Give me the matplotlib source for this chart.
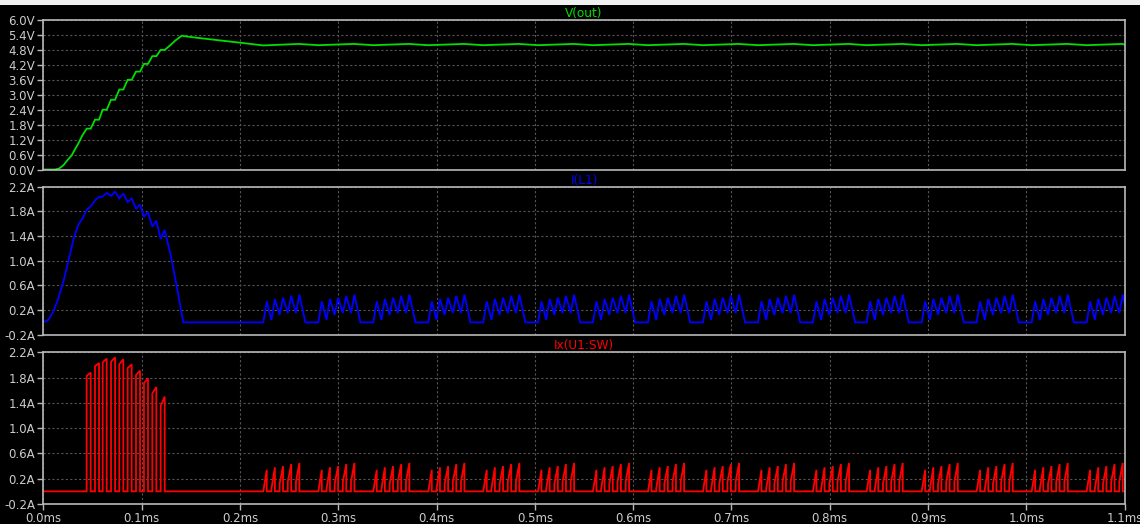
import numpy as np
import matplotlib.pyplot as plt
from matplotlib.patches import Rectangle

# COLOURS
bg = 'black'
frame_col = '#b8b8b8'
grid_col = '#555555'
text_col = '#cccccc'
green = '#00e000'
blue = '#0000ff'
red = '#ff0000'

# V(OUT) STARTUP ( ms , V )
vout_t = [0.0, 0.0118, 0.016, 0.0203, 0.025, 0.0288, 0.0320, 0.0355, 0.0395, 0.0440,
          0.0481, 0.0525, 0.0566, 0.0603, 0.0644, 0.0688, 0.0729, 0.0772, 0.0813,
          0.0857, 0.0898, 0.0942, 0.0983, 0.1023, 0.1064, 0.1108, 0.1149, 0.1193,
          0.1234, 0.1270, 0.1305, 0.1340, 0.1373, 0.1407, 0.1474, 0.1600, 0.1800,
          0.2000, 0.2150, 0.2237]
vout_v = [0.0, 0.0, 0.04, 0.17, 0.40, 0.57, 0.80, 1.04, 1.36, 1.64,
          1.64, 2.00, 2.00, 2.40, 2.40, 2.80, 2.80, 3.21, 3.21,
          3.60, 3.60, 3.93, 3.93, 4.24, 4.24, 4.55, 4.55, 4.80,
          4.80, 4.92, 5.04, 5.17, 5.27, 5.37, 5.33, 5.27, 5.18,
          5.09, 5.02, 4.98]
vout_lo = 4.99
vout_hi = 5.04

# I(L1) BEFORE FIRST SWITCH PULSE
il_pre_t = [0.0, 0.0050, 0.0100, 0.0152, 0.0203, 0.0253, 0.0304, 0.0355, 0.0406, 0.0440]
il_pre_i = [0.0, 0.04, 0.17, 0.39, 0.66, 0.98, 1.34, 1.58, 1.71, 1.825]

# STARTUP SWITCH PULSES
start_on = [0.0440, 0.0525, 0.0603, 0.0688, 0.0772, 0.0857, 0.0942, 0.1023, 0.1108, 0.1193]
start_lo = [1.825, 1.98, 2.04, 2.05, 2.01, 1.95, 1.84, 1.71, 1.55, 1.35]
start_hi = [1.88, 2.03, 2.10, 2.12, 2.09, 2.01, 1.91, 1.79, 1.65, 1.50]
start_ton = 0.0041

# I(L1) FALL AFTER LAST PULSE
il_fall_t = [0.1300, 0.1360, 0.1423]
il_fall_i = [1.05, 0.55, 0.0]

# STEADY STATE BURSTS
burst_t = [0.2237, 0.2797, 0.3356, 0.3916, 0.4475, 0.5032, 0.5591, 0.6151,
           0.6710, 0.7270, 0.7829, 0.8375, 0.8935, 0.9494, 1.0054, 1.0613]
burst_lo = [0.0, 0.04, 0.12, 0.15, 0.15]
burst_pk = [0.34, 0.38, 0.40, 0.43, 0.45]
burst_per = 0.0083
burst_ton = 0.0035
burst_fall = 0.0061
burst_len = 0.036

# BUILD TRACES
vt = list(vout_t)
vv = list(vout_v)
for i, s in enumerate(burst_t):
    if i > 0:
        vt.append(s)
        vv.append(vout_lo)
    vt.append(s + burst_len)
    vv.append(vout_hi)
vt.append(1.1)
vv.append(vout_lo + 0.02)

lt = list(il_pre_t)
li = list(il_pre_i)
rt = [0.0]
ri = [0.0]
for on, lo, hi in zip(start_on, start_lo, start_hi):
    lt += [on, on + start_ton]
    li += [lo, hi]
    rt += [on, on, on + start_ton, on + start_ton]
    ri += [0.0, lo, hi, 0.0]
lt += il_fall_t
li += il_fall_i
for s in burst_t:
    lt.append(s)
    li.append(0.0)
    for k in range(len(burst_pk)):
        on = s + k * burst_per
        lt += [on, on + burst_ton]
        li += [burst_lo[k], burst_pk[k]]
        rt += [on, on, on + burst_ton, on + burst_ton]
        ri += [0.0, burst_lo[k], burst_pk[k], 0.0]
    lt.append(on + burst_ton + burst_fall)
    li.append(0.0)
rt.append(1.1)
ri.append(0.0)

# FIGURE
fig = plt.figure(figsize=(11.4, 5.24), dpi=100, facecolor=bg)
fig.patches.append(Rectangle((0, 1 - 5 / 524), 1, 5 / 524, transform=fig.transFigure,
                             facecolor='#f0f0f0', edgecolor='none'))

left = 43.4 / 1140
width = (1124.7 - 43.4) / 1140
ax1 = fig.add_axes([left, 0.6765, width, 0.2853])
ax2 = fig.add_axes([left, 0.3613, width, 0.2824])
ax3 = fig.add_axes([left, 0.0382, width, 0.2895])

xt = [i / 10 for i in range(12)]
panels = [
    (ax1, vt, vv, green, 'V(out)', [i * 0.6 for i in range(11)], 'V', (0.0, 6.0)),
    (ax2, lt, li, blue, 'I(L1)', [-0.2 + i * 0.4 for i in range(7)], 'A', (-0.2, 2.2)),
    (ax3, rt, ri, red, 'Ix(U1:SW)', [-0.2 + i * 0.4 for i in range(7)], 'A', (-0.2, 2.2)),
]

for ax, x, y, col, title, yt, unit, ylim in panels:
    ax.set_facecolor(bg)
    ax.plot(x, y, color=col, lw=1.3, solid_joinstyle='miter')
    ax.set_xlim(0, 1.1)
    ax.set_ylim(*ylim)
    ax.set_xticks(xt)
    ax.set_yticks(yt)
    ax.set_yticklabels([f'{v:.1f}{unit}' for v in yt])
    ax.grid(True, color=grid_col, linestyle=(0, (2, 2)), lw=0.8)
    for sp in ax.spines.values():
        sp.set_color(frame_col)
        sp.set_linewidth(1.2)
    ax.tick_params(colors=frame_col, labelcolor=text_col, labelsize=8.5, length=4, width=1, pad=2)
    ax.set_title(title, color=col, fontsize=8.7, pad=2)
    if ax is not ax3:
        ax.tick_params(axis='x', length=0, labelbottom=False)

ax3.set_xticklabels([f'{v:.1f}ms' for v in xt])

fig.savefig('out.png', dpi=100, facecolor=bg)
